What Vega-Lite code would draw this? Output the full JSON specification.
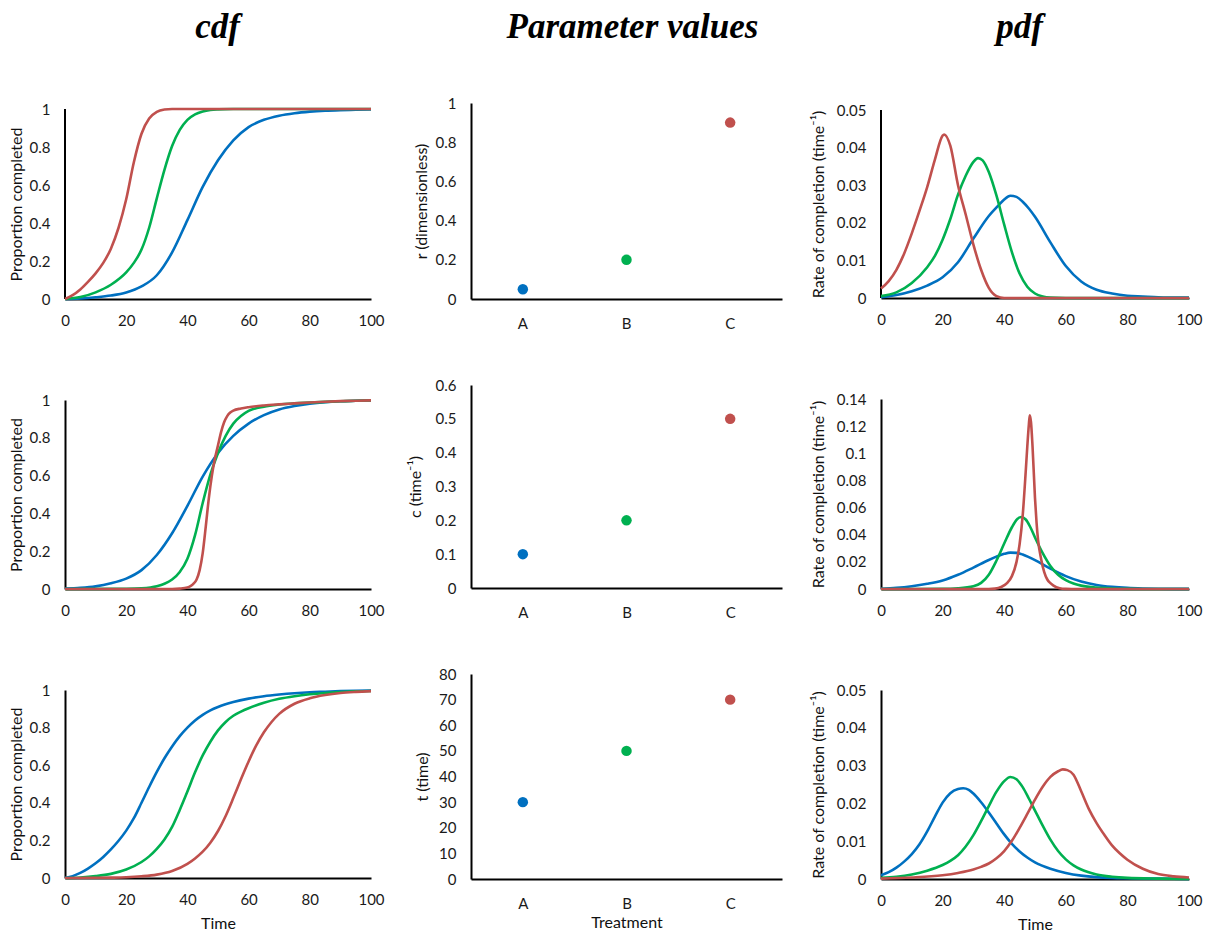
{
  "$schema": "https://vega.github.io/schema/vega-lite/v6.json",
  "background": "white",
  "padding": {"left": 7, "top": 9, "right": 5, "bottom": 3},
  "config": {
    "view": {"stroke": null},
    "font": "Lato",
    "axis": {
      "domainColor": "black",
      "domainWidth": 2,
      "ticks": false,
      "tickSize": 0,
      "grid": false,
      "labelFont": "Lato",
      "labelFontSize": 15,
      "labelColor": "#1a1a1a",
      "labelPadding": 15,
      "labelFlush": false,
      "titleFont": "Lato",
      "titleFontSize": 16,
      "titleFontWeight": "normal",
      "titleColor": "#111111",
      "titleBaseline": "middle"
    },
    "axisX": {"labelPadding": 14, "labelAngle": 0},
    "line": {"strokeWidth": 2.6, "interpolate": "monotone"},
    "point": {"filled": true, "size": 110, "opacity": 1}
  },
  "datasets": {
    "cdf_r": [
      {"trt": "A", "time": 0, "val": 0}, {"trt": "A", "time": 5, "val": 0.003}, {"trt": "A", "time": 10, "val": 0.009}, {"trt": "A", "time": 15, "val": 0.018}, {"trt": "A", "time": 20, "val": 0.034}, {"trt": "A", "time": 25, "val": 0.066}, {"trt": "A", "time": 30, "val": 0.125}, {"trt": "A", "time": 35, "val": 0.245}, {"trt": "A", "time": 40, "val": 0.415}, {"trt": "A", "time": 45, "val": 0.59}, {"trt": "A", "time": 50, "val": 0.73}, {"trt": "A", "time": 55, "val": 0.835}, {"trt": "A", "time": 60, "val": 0.905}, {"trt": "A", "time": 65, "val": 0.943}, {"trt": "A", "time": 70, "val": 0.965}, {"trt": "A", "time": 75, "val": 0.978}, {"trt": "A", "time": 80, "val": 0.986}, {"trt": "A", "time": 85, "val": 0.991}, {"trt": "A", "time": 90, "val": 0.994}, {"trt": "A", "time": 95, "val": 0.996}, {"trt": "A", "time": 100, "val": 0.998},
      {"trt": "B", "time": 0, "val": 0}, {"trt": "B", "time": 5, "val": 0.01}, {"trt": "B", "time": 10, "val": 0.035}, {"trt": "B", "time": 15, "val": 0.075}, {"trt": "B", "time": 20, "val": 0.14}, {"trt": "B", "time": 22.5, "val": 0.19}, {"trt": "B", "time": 25, "val": 0.26}, {"trt": "B", "time": 27.5, "val": 0.375}, {"trt": "B", "time": 30, "val": 0.53}, {"trt": "B", "time": 32.5, "val": 0.68}, {"trt": "B", "time": 35, "val": 0.805}, {"trt": "B", "time": 37.5, "val": 0.89}, {"trt": "B", "time": 40, "val": 0.943}, {"trt": "B", "time": 42.5, "val": 0.972}, {"trt": "B", "time": 45, "val": 0.987}, {"trt": "B", "time": 47.5, "val": 0.995}, {"trt": "B", "time": 50, "val": 0.998}, {"trt": "B", "time": 55, "val": 1}, {"trt": "B", "time": 100, "val": 1},
      {"trt": "C", "time": 0, "val": 0}, {"trt": "C", "time": 2.5, "val": 0.02}, {"trt": "C", "time": 5, "val": 0.05}, {"trt": "C", "time": 7.5, "val": 0.09}, {"trt": "C", "time": 10, "val": 0.135}, {"trt": "C", "time": 12.5, "val": 0.19}, {"trt": "C", "time": 15, "val": 0.265}, {"trt": "C", "time": 17.5, "val": 0.375}, {"trt": "C", "time": 20, "val": 0.525}, {"trt": "C", "time": 22.5, "val": 0.72}, {"trt": "C", "time": 25, "val": 0.87}, {"trt": "C", "time": 27.5, "val": 0.95}, {"trt": "C", "time": 30, "val": 0.985}, {"trt": "C", "time": 32.5, "val": 0.997}, {"trt": "C", "time": 35, "val": 1}, {"trt": "C", "time": 100, "val": 1}
    ],
    "cdf_c": [
      {"trt": "A", "time": 0, "val": 0.002}, {"trt": "A", "time": 5, "val": 0.006}, {"trt": "A", "time": 10, "val": 0.014}, {"trt": "A", "time": 15, "val": 0.03}, {"trt": "A", "time": 20, "val": 0.055}, {"trt": "A", "time": 25, "val": 0.1}, {"trt": "A", "time": 30, "val": 0.18}, {"trt": "A", "time": 35, "val": 0.295}, {"trt": "A", "time": 40, "val": 0.44}, {"trt": "A", "time": 45, "val": 0.595}, {"trt": "A", "time": 50, "val": 0.72}, {"trt": "A", "time": 55, "val": 0.81}, {"trt": "A", "time": 60, "val": 0.875}, {"trt": "A", "time": 65, "val": 0.92}, {"trt": "A", "time": 70, "val": 0.95}, {"trt": "A", "time": 75, "val": 0.968}, {"trt": "A", "time": 80, "val": 0.98}, {"trt": "A", "time": 85, "val": 0.988}, {"trt": "A", "time": 90, "val": 0.993}, {"trt": "A", "time": 95, "val": 0.996}, {"trt": "A", "time": 100, "val": 0.998},
      {"trt": "B", "time": 0, "val": 0}, {"trt": "B", "time": 15, "val": 0.0005}, {"trt": "B", "time": 20, "val": 0.001}, {"trt": "B", "time": 25, "val": 0.004}, {"trt": "B", "time": 30, "val": 0.015}, {"trt": "B", "time": 32.5, "val": 0.028}, {"trt": "B", "time": 35, "val": 0.05}, {"trt": "B", "time": 37.5, "val": 0.09}, {"trt": "B", "time": 40, "val": 0.16}, {"trt": "B", "time": 42.5, "val": 0.285}, {"trt": "B", "time": 45, "val": 0.455}, {"trt": "B", "time": 47.5, "val": 0.605}, {"trt": "B", "time": 50, "val": 0.72}, {"trt": "B", "time": 52.5, "val": 0.81}, {"trt": "B", "time": 55, "val": 0.875}, {"trt": "B", "time": 57.5, "val": 0.915}, {"trt": "B", "time": 60, "val": 0.942}, {"trt": "B", "time": 65, "val": 0.965}, {"trt": "B", "time": 70, "val": 0.976}, {"trt": "B", "time": 75, "val": 0.982}, {"trt": "B", "time": 80, "val": 0.986}, {"trt": "B", "time": 85, "val": 0.99}, {"trt": "B", "time": 90, "val": 0.993}, {"trt": "B", "time": 95, "val": 0.996}, {"trt": "B", "time": 100, "val": 0.998},
      {"trt": "C", "time": 0, "val": 0}, {"trt": "C", "time": 35, "val": 0}, {"trt": "C", "time": 37.5, "val": 0.002}, {"trt": "C", "time": 40, "val": 0.008}, {"trt": "C", "time": 41, "val": 0.015}, {"trt": "C", "time": 42, "val": 0.028}, {"trt": "C", "time": 43, "val": 0.05}, {"trt": "C", "time": 44, "val": 0.1}, {"trt": "C", "time": 45, "val": 0.19}, {"trt": "C", "time": 46, "val": 0.33}, {"trt": "C", "time": 47, "val": 0.48}, {"trt": "C", "time": 48, "val": 0.6}, {"trt": "C", "time": 49, "val": 0.69}, {"trt": "C", "time": 50, "val": 0.76}, {"trt": "C", "time": 51, "val": 0.83}, {"trt": "C", "time": 52, "val": 0.882}, {"trt": "C", "time": 53, "val": 0.915}, {"trt": "C", "time": 54, "val": 0.934}, {"trt": "C", "time": 55, "val": 0.944}, {"trt": "C", "time": 57.5, "val": 0.955}, {"trt": "C", "time": 60, "val": 0.962}, {"trt": "C", "time": 65, "val": 0.971}, {"trt": "C", "time": 70, "val": 0.977}, {"trt": "C", "time": 75, "val": 0.982}, {"trt": "C", "time": 80, "val": 0.987}, {"trt": "C", "time": 85, "val": 0.991}, {"trt": "C", "time": 90, "val": 0.994}, {"trt": "C", "time": 95, "val": 0.996}, {"trt": "C", "time": 100, "val": 0.998}
    ],
    "cdf_t": [
      {"trt": "A", "time": 0, "val": 0}, {"trt": "A", "time": 2.5, "val": 0.01}, {"trt": "A", "time": 5, "val": 0.027}, {"trt": "A", "time": 7.5, "val": 0.05}, {"trt": "A", "time": 10, "val": 0.078}, {"trt": "A", "time": 12.5, "val": 0.112}, {"trt": "A", "time": 15, "val": 0.152}, {"trt": "A", "time": 17.5, "val": 0.198}, {"trt": "A", "time": 20, "val": 0.252}, {"trt": "A", "time": 22.5, "val": 0.318}, {"trt": "A", "time": 25, "val": 0.4}, {"trt": "A", "time": 27.5, "val": 0.484}, {"trt": "A", "time": 30, "val": 0.564}, {"trt": "A", "time": 32.5, "val": 0.637}, {"trt": "A", "time": 35, "val": 0.7}, {"trt": "A", "time": 37.5, "val": 0.755}, {"trt": "A", "time": 40, "val": 0.8}, {"trt": "A", "time": 42.5, "val": 0.838}, {"trt": "A", "time": 45, "val": 0.868}, {"trt": "A", "time": 47.5, "val": 0.892}, {"trt": "A", "time": 50, "val": 0.91}, {"trt": "A", "time": 55, "val": 0.936}, {"trt": "A", "time": 60, "val": 0.954}, {"trt": "A", "time": 65, "val": 0.967}, {"trt": "A", "time": 70, "val": 0.976}, {"trt": "A", "time": 75, "val": 0.983}, {"trt": "A", "time": 80, "val": 0.988}, {"trt": "A", "time": 85, "val": 0.991}, {"trt": "A", "time": 90, "val": 0.994}, {"trt": "A", "time": 95, "val": 0.996}, {"trt": "A", "time": 100, "val": 0.997},
      {"trt": "B", "time": 0, "val": 0}, {"trt": "B", "time": 5, "val": 0.003}, {"trt": "B", "time": 10, "val": 0.01}, {"trt": "B", "time": 15, "val": 0.022}, {"trt": "B", "time": 20, "val": 0.045}, {"trt": "B", "time": 25, "val": 0.085}, {"trt": "B", "time": 27.5, "val": 0.115}, {"trt": "B", "time": 30, "val": 0.155}, {"trt": "B", "time": 32.5, "val": 0.205}, {"trt": "B", "time": 35, "val": 0.272}, {"trt": "B", "time": 37.5, "val": 0.362}, {"trt": "B", "time": 40, "val": 0.46}, {"trt": "B", "time": 42.5, "val": 0.562}, {"trt": "B", "time": 45, "val": 0.652}, {"trt": "B", "time": 47.5, "val": 0.725}, {"trt": "B", "time": 50, "val": 0.785}, {"trt": "B", "time": 52.5, "val": 0.83}, {"trt": "B", "time": 55, "val": 0.863}, {"trt": "B", "time": 57.5, "val": 0.885}, {"trt": "B", "time": 60, "val": 0.903}, {"trt": "B", "time": 65, "val": 0.932}, {"trt": "B", "time": 70, "val": 0.953}, {"trt": "B", "time": 75, "val": 0.967}, {"trt": "B", "time": 80, "val": 0.977}, {"trt": "B", "time": 85, "val": 0.984}, {"trt": "B", "time": 90, "val": 0.989}, {"trt": "B", "time": 95, "val": 0.993}, {"trt": "B", "time": 100, "val": 0.995},
      {"trt": "C", "time": 0, "val": 0}, {"trt": "C", "time": 10, "val": 0.001}, {"trt": "C", "time": 15, "val": 0.002}, {"trt": "C", "time": 20, "val": 0.004}, {"trt": "C", "time": 25, "val": 0.009}, {"trt": "C", "time": 30, "val": 0.018}, {"trt": "C", "time": 35, "val": 0.037}, {"trt": "C", "time": 40, "val": 0.075}, {"trt": "C", "time": 42.5, "val": 0.104}, {"trt": "C", "time": 45, "val": 0.14}, {"trt": "C", "time": 47.5, "val": 0.188}, {"trt": "C", "time": 50, "val": 0.25}, {"trt": "C", "time": 52.5, "val": 0.33}, {"trt": "C", "time": 55, "val": 0.425}, {"trt": "C", "time": 57.5, "val": 0.525}, {"trt": "C", "time": 60, "val": 0.62}, {"trt": "C", "time": 62.5, "val": 0.705}, {"trt": "C", "time": 65, "val": 0.775}, {"trt": "C", "time": 67.5, "val": 0.83}, {"trt": "C", "time": 70, "val": 0.873}, {"trt": "C", "time": 75, "val": 0.927}, {"trt": "C", "time": 80, "val": 0.956}, {"trt": "C", "time": 85, "val": 0.973}, {"trt": "C", "time": 90, "val": 0.984}, {"trt": "C", "time": 95, "val": 0.99}, {"trt": "C", "time": 100, "val": 0.994}
    ],
    "pdf_r": [
      {"trt": "A", "time": 0, "val": 0.0002}, {"trt": "A", "time": 5, "val": 0.0008}, {"trt": "A", "time": 10, "val": 0.0018}, {"trt": "A", "time": 15, "val": 0.0033}, {"trt": "A", "time": 20, "val": 0.0055}, {"trt": "A", "time": 25, "val": 0.0095}, {"trt": "A", "time": 30, "val": 0.0158}, {"trt": "A", "time": 35, "val": 0.0218}, {"trt": "A", "time": 38, "val": 0.0245}, {"trt": "A", "time": 40, "val": 0.0262}, {"trt": "A", "time": 42, "val": 0.0272}, {"trt": "A", "time": 44, "val": 0.0269}, {"trt": "A", "time": 46, "val": 0.0256}, {"trt": "A", "time": 48, "val": 0.0238}, {"trt": "A", "time": 50, "val": 0.0216}, {"trt": "A", "time": 55, "val": 0.0148}, {"trt": "A", "time": 60, "val": 0.0085}, {"trt": "A", "time": 65, "val": 0.0044}, {"trt": "A", "time": 70, "val": 0.0022}, {"trt": "A", "time": 75, "val": 0.0012}, {"trt": "A", "time": 80, "val": 0.0006}, {"trt": "A", "time": 85, "val": 0.0004}, {"trt": "A", "time": 90, "val": 0.0002}, {"trt": "A", "time": 95, "val": 0.0001}, {"trt": "A", "time": 100, "val": 0.0001},
      {"trt": "B", "time": 0, "val": 0.0005}, {"trt": "B", "time": 5, "val": 0.0015}, {"trt": "B", "time": 10, "val": 0.004}, {"trt": "B", "time": 15, "val": 0.0082}, {"trt": "B", "time": 17.5, "val": 0.0112}, {"trt": "B", "time": 20, "val": 0.0155}, {"trt": "B", "time": 22.5, "val": 0.021}, {"trt": "B", "time": 25, "val": 0.0275}, {"trt": "B", "time": 27.5, "val": 0.0325}, {"trt": "B", "time": 30, "val": 0.0362}, {"trt": "B", "time": 31.5, "val": 0.0372}, {"trt": "B", "time": 33, "val": 0.0366}, {"trt": "B", "time": 35, "val": 0.0335}, {"trt": "B", "time": 37.5, "val": 0.0272}, {"trt": "B", "time": 40, "val": 0.0195}, {"trt": "B", "time": 42.5, "val": 0.0122}, {"trt": "B", "time": 45, "val": 0.0065}, {"trt": "B", "time": 47.5, "val": 0.003}, {"trt": "B", "time": 50, "val": 0.0012}, {"trt": "B", "time": 52.5, "val": 0.0004}, {"trt": "B", "time": 55, "val": 0.0001}, {"trt": "B", "time": 60, "val": 0}, {"trt": "B", "time": 100, "val": 0},
      {"trt": "C", "time": 0, "val": 0.0025}, {"trt": "C", "time": 2.5, "val": 0.0045}, {"trt": "C", "time": 5, "val": 0.0075}, {"trt": "C", "time": 7.5, "val": 0.0118}, {"trt": "C", "time": 10, "val": 0.0172}, {"trt": "C", "time": 12.5, "val": 0.0232}, {"trt": "C", "time": 15, "val": 0.0295}, {"trt": "C", "time": 17.5, "val": 0.0368}, {"trt": "C", "time": 20, "val": 0.0432}, {"trt": "C", "time": 20.5, "val": 0.0435}, {"trt": "C", "time": 22.5, "val": 0.0405}, {"trt": "C", "time": 25, "val": 0.03}, {"trt": "C", "time": 27.5, "val": 0.0222}, {"trt": "C", "time": 30, "val": 0.0142}, {"trt": "C", "time": 32.5, "val": 0.0075}, {"trt": "C", "time": 35, "val": 0.0027}, {"trt": "C", "time": 37.5, "val": 0.0005}, {"trt": "C", "time": 40, "val": 0}, {"trt": "C", "time": 100, "val": 0}
    ],
    "pdf_c": [
      {"trt": "A", "time": 0, "val": 0.0002}, {"trt": "A", "time": 5, "val": 0.0008}, {"trt": "A", "time": 10, "val": 0.002}, {"trt": "A", "time": 15, "val": 0.0038}, {"trt": "A", "time": 20, "val": 0.0063}, {"trt": "A", "time": 25, "val": 0.0105}, {"trt": "A", "time": 30, "val": 0.0158}, {"trt": "A", "time": 35, "val": 0.0214}, {"trt": "A", "time": 38, "val": 0.0243}, {"trt": "A", "time": 40, "val": 0.0259}, {"trt": "A", "time": 42, "val": 0.0268}, {"trt": "A", "time": 44, "val": 0.0266}, {"trt": "A", "time": 46, "val": 0.0254}, {"trt": "A", "time": 48, "val": 0.0235}, {"trt": "A", "time": 50, "val": 0.0213}, {"trt": "A", "time": 55, "val": 0.015}, {"trt": "A", "time": 60, "val": 0.0095}, {"trt": "A", "time": 65, "val": 0.0055}, {"trt": "A", "time": 70, "val": 0.003}, {"trt": "A", "time": 75, "val": 0.0016}, {"trt": "A", "time": 80, "val": 0.0008}, {"trt": "A", "time": 85, "val": 0.0004}, {"trt": "A", "time": 90, "val": 0.0002}, {"trt": "A", "time": 100, "val": 0.0001},
      {"trt": "B", "time": 0, "val": 0}, {"trt": "B", "time": 20, "val": 0.0001}, {"trt": "B", "time": 25, "val": 0.0005}, {"trt": "B", "time": 30, "val": 0.002}, {"trt": "B", "time": 32.5, "val": 0.0045}, {"trt": "B", "time": 35, "val": 0.0105}, {"trt": "B", "time": 37.5, "val": 0.021}, {"trt": "B", "time": 40, "val": 0.0335}, {"trt": "B", "time": 42.5, "val": 0.0455}, {"trt": "B", "time": 44, "val": 0.051}, {"trt": "B", "time": 45.5, "val": 0.053}, {"trt": "B", "time": 47, "val": 0.0512}, {"trt": "B", "time": 48.5, "val": 0.0455}, {"trt": "B", "time": 50, "val": 0.038}, {"trt": "B", "time": 52.5, "val": 0.0265}, {"trt": "B", "time": 55, "val": 0.017}, {"trt": "B", "time": 57.5, "val": 0.0105}, {"trt": "B", "time": 60, "val": 0.0065}, {"trt": "B", "time": 62.5, "val": 0.004}, {"trt": "B", "time": 65, "val": 0.0025}, {"trt": "B", "time": 70, "val": 0.001}, {"trt": "B", "time": 75, "val": 0.0004}, {"trt": "B", "time": 80, "val": 0.0001}, {"trt": "B", "time": 85, "val": 0}, {"trt": "B", "time": 100, "val": 0},
      {"trt": "C", "time": 0, "val": 0}, {"trt": "C", "time": 35, "val": 0}, {"trt": "C", "time": 37, "val": 0.0003}, {"trt": "C", "time": 39, "val": 0.0015}, {"trt": "C", "time": 41, "val": 0.0045}, {"trt": "C", "time": 42.5, "val": 0.0095}, {"trt": "C", "time": 44, "val": 0.02}, {"trt": "C", "time": 45, "val": 0.033}, {"trt": "C", "time": 46, "val": 0.054}, {"trt": "C", "time": 47, "val": 0.087}, {"trt": "C", "time": 47.5, "val": 0.105}, {"trt": "C", "time": 48, "val": 0.121}, {"trt": "C", "time": 48.3, "val": 0.128}, {"trt": "C", "time": 48.7, "val": 0.123}, {"trt": "C", "time": 49.2, "val": 0.105}, {"trt": "C", "time": 50, "val": 0.067}, {"trt": "C", "time": 50.5, "val": 0.049}, {"trt": "C", "time": 51, "val": 0.036}, {"trt": "C", "time": 52, "val": 0.022}, {"trt": "C", "time": 53, "val": 0.0125}, {"trt": "C", "time": 54, "val": 0.007}, {"trt": "C", "time": 55, "val": 0.0043}, {"trt": "C", "time": 56, "val": 0.0025}, {"trt": "C", "time": 58, "val": 0.0006}, {"trt": "C", "time": 60, "val": 0.0001}, {"trt": "C", "time": 62, "val": 0}, {"trt": "C", "time": 100, "val": 0}
    ],
    "pdf_t": [
      {"trt": "A", "time": 0, "val": 0.001}, {"trt": "A", "time": 2.5, "val": 0.0018}, {"trt": "A", "time": 5, "val": 0.003}, {"trt": "A", "time": 7.5, "val": 0.0046}, {"trt": "A", "time": 10, "val": 0.0066}, {"trt": "A", "time": 12.5, "val": 0.0092}, {"trt": "A", "time": 15, "val": 0.0126}, {"trt": "A", "time": 17.5, "val": 0.0165}, {"trt": "A", "time": 20, "val": 0.0202}, {"trt": "A", "time": 22.5, "val": 0.0227}, {"trt": "A", "time": 25, "val": 0.0238}, {"trt": "A", "time": 26.7, "val": 0.024}, {"trt": "A", "time": 28.5, "val": 0.0236}, {"trt": "A", "time": 30, "val": 0.0226}, {"trt": "A", "time": 32.5, "val": 0.0203}, {"trt": "A", "time": 35, "val": 0.0176}, {"trt": "A", "time": 37.5, "val": 0.0147}, {"trt": "A", "time": 40, "val": 0.0118}, {"trt": "A", "time": 42.5, "val": 0.0093}, {"trt": "A", "time": 45, "val": 0.0073}, {"trt": "A", "time": 47.5, "val": 0.0057}, {"trt": "A", "time": 50, "val": 0.0044}, {"trt": "A", "time": 55, "val": 0.0027}, {"trt": "A", "time": 60, "val": 0.0016}, {"trt": "A", "time": 65, "val": 0.0009}, {"trt": "A", "time": 70, "val": 0.0005}, {"trt": "A", "time": 75, "val": 0.0003}, {"trt": "A", "time": 80, "val": 0.0002}, {"trt": "A", "time": 90, "val": 0.0001}, {"trt": "A", "time": 100, "val": 0},
      {"trt": "B", "time": 0, "val": 0.0003}, {"trt": "B", "time": 5, "val": 0.0006}, {"trt": "B", "time": 10, "val": 0.0012}, {"trt": "B", "time": 15, "val": 0.0022}, {"trt": "B", "time": 20, "val": 0.0037}, {"trt": "B", "time": 22.5, "val": 0.0048}, {"trt": "B", "time": 25, "val": 0.0063}, {"trt": "B", "time": 27.5, "val": 0.0086}, {"trt": "B", "time": 30, "val": 0.0116}, {"trt": "B", "time": 32.5, "val": 0.0153}, {"trt": "B", "time": 35, "val": 0.0193}, {"trt": "B", "time": 37.5, "val": 0.0231}, {"trt": "B", "time": 40, "val": 0.0259}, {"trt": "B", "time": 42, "val": 0.027}, {"trt": "B", "time": 44, "val": 0.0264}, {"trt": "B", "time": 46, "val": 0.0243}, {"trt": "B", "time": 48, "val": 0.0213}, {"trt": "B", "time": 50, "val": 0.0181}, {"trt": "B", "time": 52.5, "val": 0.0141}, {"trt": "B", "time": 55, "val": 0.0104}, {"trt": "B", "time": 57.5, "val": 0.0074}, {"trt": "B", "time": 60, "val": 0.0052}, {"trt": "B", "time": 62.5, "val": 0.0036}, {"trt": "B", "time": 65, "val": 0.0025}, {"trt": "B", "time": 70, "val": 0.0012}, {"trt": "B", "time": 75, "val": 0.0006}, {"trt": "B", "time": 80, "val": 0.0003}, {"trt": "B", "time": 90, "val": 0.0001}, {"trt": "B", "time": 100, "val": 0},
      {"trt": "C", "time": 0, "val": 0.0001}, {"trt": "C", "time": 10, "val": 0.0004}, {"trt": "C", "time": 20, "val": 0.001}, {"trt": "C", "time": 25, "val": 0.0016}, {"trt": "C", "time": 30, "val": 0.0025}, {"trt": "C", "time": 32.5, "val": 0.0032}, {"trt": "C", "time": 35, "val": 0.0041}, {"trt": "C", "time": 37.5, "val": 0.0055}, {"trt": "C", "time": 40, "val": 0.0074}, {"trt": "C", "time": 42.5, "val": 0.0101}, {"trt": "C", "time": 45, "val": 0.0135}, {"trt": "C", "time": 47.5, "val": 0.0172}, {"trt": "C", "time": 50, "val": 0.021}, {"trt": "C", "time": 52.5, "val": 0.0244}, {"trt": "C", "time": 55, "val": 0.027}, {"trt": "C", "time": 57.5, "val": 0.0285}, {"trt": "C", "time": 59, "val": 0.029}, {"trt": "C", "time": 60.5, "val": 0.0288}, {"trt": "C", "time": 62.5, "val": 0.0276}, {"trt": "C", "time": 65, "val": 0.0232}, {"trt": "C", "time": 67.5, "val": 0.0185}, {"trt": "C", "time": 70, "val": 0.0148}, {"trt": "C", "time": 72.5, "val": 0.0117}, {"trt": "C", "time": 75, "val": 0.0089}, {"trt": "C", "time": 77.5, "val": 0.0068}, {"trt": "C", "time": 80, "val": 0.0051}, {"trt": "C", "time": 85, "val": 0.0027}, {"trt": "C", "time": 90, "val": 0.0013}, {"trt": "C", "time": 95, "val": 0.0007}, {"trt": "C", "time": 100, "val": 0.0004}
    ],
    "param_r": [{"trt": "A", "val": 0.05}, {"trt": "B", "val": 0.2}, {"trt": "C", "val": 0.9}],
    "param_c": [{"trt": "A", "val": 0.1}, {"trt": "B", "val": 0.2}, {"trt": "C", "val": 0.5}],
    "param_t": [{"trt": "A", "val": 30}, {"trt": "B", "val": 50}, {"trt": "C", "val": 70}]
  },
  "spacing": 22,
  "hconcat": [
    {
      "spacing": 101,
      "bounds": "flush",
      "vconcat": [
        {
          "width": 306, "height": 196,
          "data": {"name": "cdf_r"},
          "layer": [
            {
              "mark": {"type": "rule", "color": "black", "strokeWidth": 2},
              "encoding": {
                "x": {"datum": 0, "type": "quantitative", "axis": null},
                "y": {"datum": 0, "type": "quantitative", "axis": null},
                "y2": {"datum": 1}
              }
            },
            {
              "mark": "line",
              "encoding": {
                "x": {"field": "time", "type": "quantitative", "scale": {"domain": [0, 100], "nice": false}, "axis": {"values": [0, 20, 40, 60, 80, 100], "title": null}},
                "y": {"field": "val", "type": "quantitative", "scale": {"domain": [0, 1.031579], "nice": false, "zero": false}, "axis": {"values": [0, 0.2, 0.4, 0.6, 0.8, 1], "format": "~g", "domain": false, "title": "Proportion completed", "titleX": -49, "titleY": 101}},
                "color": {"field": "trt", "type": "nominal", "scale": {"domain": ["A", "B", "C"], "range": ["#0070C0", "#00B050", "#C0504D"]}, "legend": null}
              }
            },
            {
              "mark": {"type": "rule", "opacity": 0},
              "encoding": {
                "x": {"field": "time", "type": "quantitative", "axis": {"orient": "top", "domain": false, "labels": false, "ticks": false, "title": "cdf", "titleFont": "Liberation Serif", "titleFontSize": 35, "titleFontWeight": "bold", "titleFontStyle": "italic", "titleColor": "black", "titleAlign": "center", "titleBaseline": "alphabetic", "titleX": 152, "titleY": -66}}
              }
            }
          ],
          "resolve": {"axis": {"x": "independent", "y": "independent"}}
        },
        {
          "width": 306, "height": 189,
          "data": {"name": "cdf_c"},
          "mark": "line",
          "encoding": {
            "x": {"field": "time", "type": "quantitative", "scale": {"domain": [0, 100], "nice": false}, "axis": {"values": [0, 20, 40, 60, 80, 100], "title": null}},
            "y": {"field": "val", "type": "quantitative", "scale": {"domain": [0, 1], "nice": false}, "axis": {"values": [0, 0.2, 0.4, 0.6, 0.8, 1], "format": "~g", "title": "Proportion completed", "titleX": -49}},
            "color": {"field": "trt", "type": "nominal", "scale": {"domain": ["A", "B", "C"], "range": ["#0070C0", "#00B050", "#C0504D"]}, "legend": null}
          }
        },
        {
          "width": 306, "height": 188,
          "data": {"name": "cdf_t"},
          "mark": "line",
          "encoding": {
            "x": {"field": "time", "type": "quantitative", "scale": {"domain": [0, 100], "nice": false}, "axis": {"values": [0, 20, 40, 60, 80, 100], "title": "Time", "titleY": 45}},
            "y": {"field": "val", "type": "quantitative", "scale": {"domain": [0, 1], "nice": false}, "axis": {"values": [0, 0.2, 0.4, 0.6, 0.8, 1], "format": "~g", "title": "Proportion completed", "titleX": -49}},
            "color": {"field": "trt", "type": "nominal", "scale": {"domain": ["A", "B", "C"], "range": ["#0070C0", "#00B050", "#C0504D"]}, "legend": null}
          }
        }
      ]
    },
    {
      "spacing": 27,
      "hconcat": [
        {
          "spacing": 86,
          "bounds": "flush",
          "vconcat": [
            {
              "width": 311, "height": 196,
              "data": {"name": "param_r"},
              "layer": [
                {
                  "mark": "point",
                  "encoding": {
                    "x": {"field": "trt", "type": "nominal", "axis": {"title": null, "labelPadding": 17}},
                    "y": {"field": "val", "type": "quantitative", "scale": {"domain": [0, 1], "nice": false}, "axis": {"values": [0, 0.2, 0.4, 0.6, 0.8, 1], "format": "~g", "title": "r (dimensionless)", "titleX": -50}},
                    "color": {"field": "trt", "type": "nominal", "scale": {"domain": ["A", "B", "C"], "range": ["#0070C0", "#00B050", "#C0504D"]}, "legend": null}
                  }
                },
                {
                  "mark": {"type": "rule", "opacity": 0},
                  "encoding": {
                    "x": {"field": "trt", "type": "nominal", "axis": {"orient": "top", "domain": false, "labels": false, "ticks": false, "title": "Parameter values", "titleFont": "Liberation Serif", "titleFontSize": 35, "titleFontWeight": "bold", "titleFontStyle": "italic", "titleColor": "black", "titleAlign": "center", "titleBaseline": "alphabetic", "titleX": 161, "titleY": -66}}
                  }
                }
              ],
              "resolve": {"axis": {"x": "independent"}}
            },
            {
              "width": 311, "height": 203,
              "data": {"name": "param_c"},
              "mark": "point",
              "encoding": {
                "x": {"field": "trt", "type": "nominal", "axis": {"title": null, "labelPadding": 17}},
                "y": {"field": "val", "type": "quantitative", "scale": {"domain": [0, 0.6], "nice": false}, "axis": {"values": [0, 0.1, 0.2, 0.3, 0.4, 0.5, 0.6], "format": "~g", "title": "c (time⁻¹)", "titleX": -56}},
                "color": {"field": "trt", "type": "nominal", "scale": {"domain": ["A", "B", "C"], "range": ["#0070C0", "#00B050", "#C0504D"]}, "legend": null}
              }
            },
            {
              "width": 311, "height": 205,
              "data": {"name": "param_t"},
              "mark": "point",
              "encoding": {
                "x": {"field": "trt", "type": "nominal", "axis": {"title": "Treatment", "titleY": 43, "labelPadding": 17}},
                "y": {"field": "val", "type": "quantitative", "scale": {"domain": [0, 80], "nice": false}, "axis": {"values": [0, 10, 20, 30, 40, 50, 60, 70, 80], "title": "t (time)", "titleX": -49}},
                "color": {"field": "trt", "type": "nominal", "scale": {"domain": ["A", "B", "C"], "range": ["#0070C0", "#00B050", "#C0504D"]}, "legend": null}
              }
            }
          ]
        },
        {
          "spacing": 101,
          "bounds": "flush",
          "vconcat": [
            {
              "width": 308, "height": 195,
              "data": {"name": "pdf_r"},
              "layer": [
                {
                  "mark": {"type": "rule", "color": "black", "strokeWidth": 2},
                  "encoding": {
                    "x": {"datum": 0, "type": "quantitative", "axis": null},
                    "y": {"datum": 0, "type": "quantitative", "axis": null},
                    "y2": {"datum": 0.05}
                  }
                },
                {
                  "mark": "line",
                  "encoding": {
                    "x": {"field": "time", "type": "quantitative", "scale": {"domain": [0, 100], "nice": false}, "axis": {"values": [0, 20, 40, 60, 80, 100], "title": null}},
                    "y": {"field": "val", "type": "quantitative", "scale": {"domain": [0, 0.051862], "nice": false, "zero": false}, "axis": {"values": [0, 0.01, 0.02, 0.03, 0.04, 0.05], "format": "~g", "domain": false, "title": "Rate of completion (time⁻¹)", "titleX": -63, "titleY": 101}},
                    "color": {"field": "trt", "type": "nominal", "scale": {"domain": ["A", "B", "C"], "range": ["#0070C0", "#00B050", "#C0504D"]}, "legend": null}
                  }
                },
                {
                  "mark": {"type": "rule", "opacity": 0},
                  "encoding": {
                    "x": {"field": "time", "type": "quantitative", "axis": {"orient": "top", "domain": false, "labels": false, "ticks": false, "title": "pdf", "titleFont": "Liberation Serif", "titleFontSize": 35, "titleFontWeight": "bold", "titleFontStyle": "italic", "titleColor": "black", "titleAlign": "center", "titleBaseline": "alphabetic", "titleX": 138, "titleY": -66}}
                  }
                }
              ],
              "resolve": {"axis": {"x": "independent", "y": "independent"}}
            },
            {
              "width": 308, "height": 190,
              "data": {"name": "pdf_c"},
              "mark": "line",
              "encoding": {
                "x": {"field": "time", "type": "quantitative", "scale": {"domain": [0, 100], "nice": false}, "axis": {"values": [0, 20, 40, 60, 80, 100], "title": null}},
                "y": {"field": "val", "type": "quantitative", "scale": {"domain": [0, 0.14], "nice": false}, "axis": {"values": [0, 0.02, 0.04, 0.06, 0.08, 0.1, 0.12, 0.14], "format": "~g", "title": "Rate of completion (time⁻¹)", "titleX": -63}},
                "color": {"field": "trt", "type": "nominal", "scale": {"domain": ["A", "B", "C"], "range": ["#0070C0", "#00B050", "#C0504D"]}, "legend": null}
              }
            },
            {
              "width": 308, "height": 189,
              "data": {"name": "pdf_t"},
              "mark": "line",
              "encoding": {
                "x": {"field": "time", "type": "quantitative", "scale": {"domain": [0, 100], "nice": false}, "axis": {"values": [0, 20, 40, 60, 80, 100], "title": "Time", "titleY": 45}},
                "y": {"field": "val", "type": "quantitative", "scale": {"domain": [0, 0.05], "nice": false}, "axis": {"values": [0, 0.01, 0.02, 0.03, 0.04, 0.05], "format": "~g", "title": "Rate of completion (time⁻¹)", "titleX": -63}},
                "color": {"field": "trt", "type": "nominal", "scale": {"domain": ["A", "B", "C"], "range": ["#0070C0", "#00B050", "#C0504D"]}, "legend": null}
              }
            }
          ]
        }
      ]
    }
  ]
}
